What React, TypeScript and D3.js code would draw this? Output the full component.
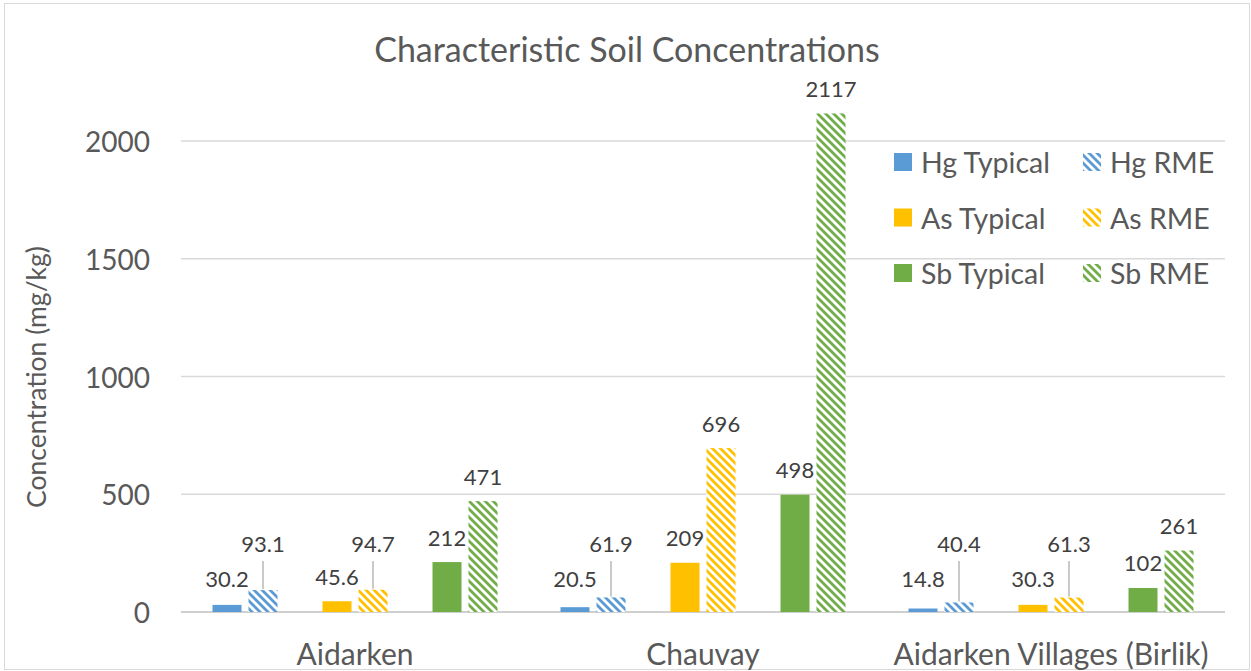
import React from "react";
import * as d3 from "d3";

const categories = ["Aidarken", "Chauvay", "Aidarken Villages (Birlik)"];
const metals = ["Hg", "As", "Sb"];
const colors = ["#5B9BD5", "#FFC000", "#70AD47"];
const typicalValues = [
  [30.2, 20.5, 14.8],
  [45.6, 209, 30.3],
  [212, 498, 102],
];
const rmeValues = [
  [93.1, 61.9, 40.4],
  [94.7, 696, 61.3],
  [471, 2117, 261],
];
const typicalLabels = [
  ["30.2", "20.5", "14.8"],
  ["45.6", "209", "30.3"],
  ["212", "498", "102"],
];
const rmeLabels = [
  ["93.1", "61.9", "40.4"],
  ["94.7", "696", "61.3"],
  ["471", "2117", "261"],
];
const yTicks = [0, 500, 1000, 1500, 2000];

const W = 1251;
const H = 671;
const FONT = "Lato, 'Open Sans', sans-serif";

export default function App() {
  const x0 = d3.scaleBand<string>().domain(categories).range([181, 1225]);
  const y = d3.scaleLinear().domain([0, 2500]).range([612, 23.25]);
  const pairOffset = d3.scalePoint<string>().domain(metals).range([-110, 110]);
  const barW = 29;
  const gap = 7;
  const leaderLabelY = 543;

  const bars: React.ReactNode[] = [];
  categories.forEach((c, ci) => {
    const cx = (x0(c) as number) + x0.bandwidth() / 2;
    metals.forEach((m, mi) => {
      const pc = cx + (pairOffset(m) as number);
      const xt = pc - gap / 2 - barW;
      const xr = pc + gap / 2;
      const tv = typicalValues[mi][ci];
      const rv = rmeValues[mi][ci];
      const ty = y(tv);
      const ry = y(rv);
      bars.push(
        <rect key={`t${ci}${mi}`} x={xt} y={ty} width={barW} height={y(0) - ty} fill={colors[mi]} />
      );
      bars.push(
        <rect key={`r${ci}${mi}`} x={xr} y={ry} width={barW} height={y(0) - ry} fill={`url(#pat${mi})`} />
      );
      const tly = Math.min(ty, 603) - 25;
      bars.push(
        <text key={`tl${ci}${mi}`} x={xt + barW / 2} y={tly} textAnchor="middle" dominantBaseline="central" fontSize={22} fill="#404040">
          {typicalLabels[mi][ci]}
        </text>
      );
      if (rv < 100) {
        bars.push(
          <line key={`ll${ci}${mi}`} x1={xr + barW / 2} x2={xr + barW / 2} y1={leaderLabelY + 18} y2={ry - 1} stroke="#A6A6A6" strokeWidth={1.2} />
        );
        bars.push(
          <text key={`rl${ci}${mi}`} x={xr + barW / 2} y={leaderLabelY} textAnchor="middle" dominantBaseline="central" fontSize={22} fill="#404040">
            {rmeLabels[mi][ci]}
          </text>
        );
      } else {
        bars.push(
          <text key={`rl${ci}${mi}`} x={xr + barW / 2} y={ry - 25} textAnchor="middle" dominantBaseline="central" fontSize={22} fill="#404040">
            {rmeLabels[mi][ci]}
          </text>
        );
      }
    });
  });

  const legendItems: React.ReactNode[] = [];
  metals.forEach((m, mi) => {
    const ly = 162 + mi * 55.5;
    legendItems.push(
      <g key={`lg${mi}`}>
        <rect x={894} y={ly - 9} width={18} height={18} fill={colors[mi]} />
        <text x={921} y={ly} dominantBaseline="central" fontSize={28.5} fill="#595959">{`${m} Typical`}</text>
        <rect x={1083} y={ly - 9} width={18} height={18} fill={`url(#pat${mi})`} />
        <text x={1110} y={ly} dominantBaseline="central" fontSize={28.5} fill="#595959">{`${m} RME`}</text>
      </g>
    );
  });

  return (
    <div style={{ position: "absolute", left: 0, top: 0 }}>
      <svg width={W} height={H} style={{ display: "block", fontFamily: FONT }}>
        <defs>
          {colors.map((col, i) => (
            <pattern key={i} id={`pat${i}`} patternUnits="userSpaceOnUse" width={8} height={8}>
              <rect width={8} height={8} fill="#fff" />
              <path d="M-2,2 L2,-2 M0,8 L8,0 M6,10 L10,6" stroke={col} strokeWidth={2.8} transform="scale(-1,1) translate(-8,0)" />
            </pattern>
          ))}
        </defs>
        <rect x={0} y={0} width={W} height={H} fill="#fff" />
        <rect x={4.5} y={3.5} width={W - 6} height={H - 5} fill="none" stroke="#D9D9D9" strokeWidth={1} />
        <text x={627} y={48} textAnchor="middle" dominantBaseline="central" fontSize={34} fill="#595959">
          Characteristic Soil Concentrations
        </text>
        {yTicks.map((t) => (
          <g key={t}>
            <line x1={181} x2={1225} y1={y(t)} y2={y(t)} stroke={t === 0 ? "#BFBFBF" : "#D9D9D9"} strokeWidth={1.5} />
            <text x={150} y={y(t)} textAnchor="end" dominantBaseline="central" fontSize={28} fill="#595959">
              {t}
            </text>
          </g>
        ))}
        <text transform={`translate(36,${377}) rotate(-90)`} textAnchor="middle" dominantBaseline="central" fontSize={26.5} fill="#595959">
          Concentration (mg/kg)
        </text>
        {categories.map((c) => (
          <text key={c} x={(x0(c) as number) + x0.bandwidth() / 2} y={653} textAnchor="middle" dominantBaseline="central" fontSize={30} fill="#595959">
            {c}
          </text>
        ))}
        {bars}
        {legendItems}
      </svg>
    </div>
  );
}
